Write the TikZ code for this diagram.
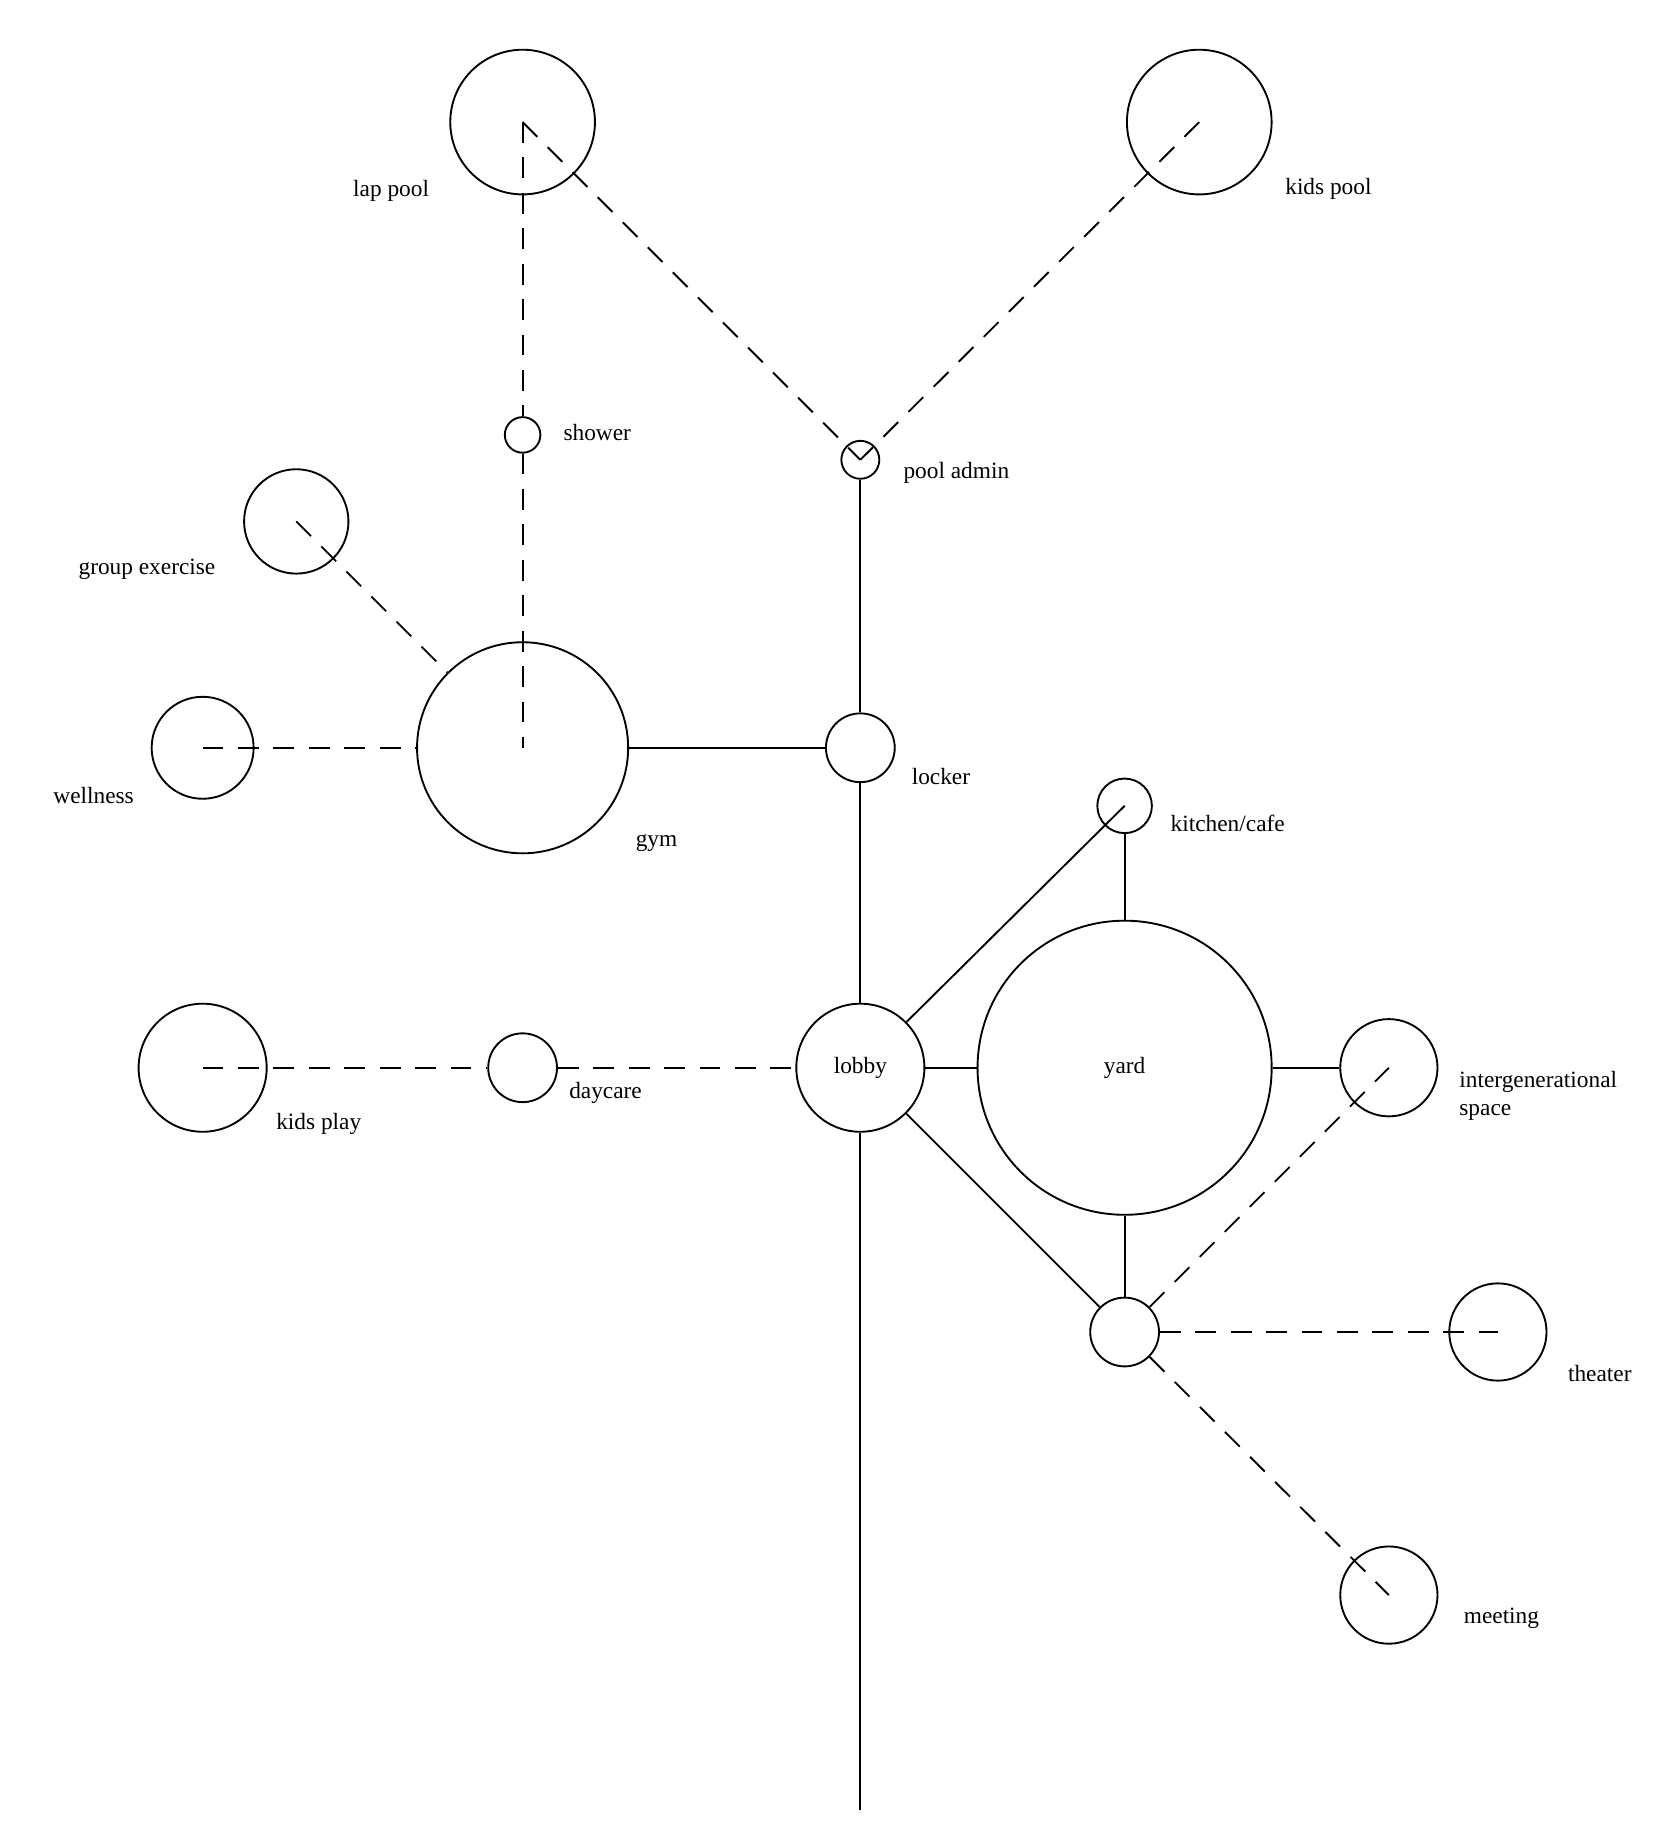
\documentclass[tikz,border=0pt]{standalone}
\usepackage{fontspec}
\setmainfont{Liberation Serif}
\begin{document}
\begin{tikzpicture}[x=0.01cm,y=-0.01cm,
  every path/.style={line width=0.45pt},
  c/.style={circle,draw,inner sep=0pt,minimum size=#1*0.02cm},
  lab/.style={font=\fontsize{5.6}{6.8}\selectfont},
  dsh/.style={dash pattern=on 5pt off 3.5pt}]
\useasboundingbox (0,0) rectangle (1412,1551);
\node[c=61] (lap) at (441,103) {};
\node[c=61] (kpool) at (1012,103) {};
\node[c=15] (shower) at (441,367) {};
\node[c=16] (padmin) at (726,388) {};
\node[c=44] (group) at (250,440) {};
\node[c=89] (gym) at (441,631) {};
\node[c=43] (well) at (171,631) {};
\node[c=29] (locker) at (726,631) {};
\node[c=23] (kitchen) at (949,680) {};
\node[c=124,lab] (yard) at (949,901) {yard};
\node[c=54,lab] (lobby) at (726,901) {lobby};
\node[c=54] (kplay) at (171,901) {};
\node[c=29] (day) at (441,901) {};
\node[c=41] (inter) at (1172,901) {};
\node[c=41] (theater) at (1264,1124) {};
\node[c=41] (meet) at (1172,1346) {};
\node[c=29] (hub) at (949,1124) {};
\coordinate (bot) at (726,1527);

\node[lab] at (330,161) {lap pool};
\node[lab] at (1121,159) {kids pool};
\node[lab] at (504,365) {shower};
\node[lab] at (807,399) {pool admin};
\node[lab] at (124,480) {group exercise};
\node[lab] at (554,711) {gym};
\node[lab] at (79,671) {wellness};
\node[lab] at (794,655) {locker};
\node[lab] at (1036,695) {kitchen/cafe};
\node[lab] at (269,948) {kids play};
\node[lab] at (511,922) {daycare};
\node[lab,align=left,anchor=west] at (1219,925) {intergenerational\\space};
\node[lab] at (1350,1159) {theater};
\node[lab] at (1267,1366) {meeting};

% dashed
\draw[dsh] (lap.center) -- (shower);
\draw[dsh] (shower) -- (gym.center);
\draw[dsh] (lap.center) -- (padmin.center);
\draw[dsh] (kpool.center) -- (padmin.center);
\draw[dsh] (group.center) -- (gym);
\draw[dsh] (well.center) -- (gym);
\draw[dsh] (kplay.center) -- (day);
\draw[dsh] (day) -- (lobby);
\draw[dsh] (hub) -- (inter.center);
\draw[dsh] (hub) -- (theater.center);
\draw[dsh] (hub) -- (meet.center);
% solid
\draw (padmin) -- (locker);
\draw (gym) -- (locker);
\draw (locker) -- (lobby);
\draw (lobby) -- (kitchen.center);
\draw (kitchen) -- (yard);
\draw (lobby) -- (yard);
\draw (yard) -- (inter);
\draw (lobby) -- (hub);
\draw (yard) -- (hub);
\draw (lobby) -- (bot);
\end{tikzpicture}
\end{document}
